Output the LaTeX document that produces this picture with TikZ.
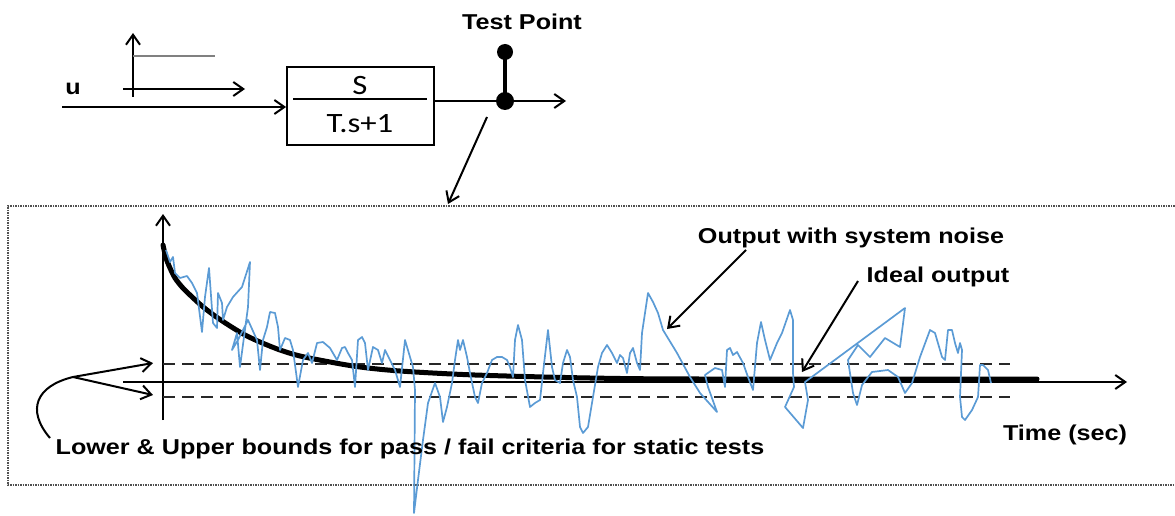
\documentclass[tikz,border=0pt]{standalone}
\usepackage{fontspec}
\usepackage{graphicx}
\setmainfont{Liberation Sans}
\newfontfamily\calibfont{Carlito}
\usetikzlibrary{arrows.meta}
\definecolor{noiseblue}{RGB}{91,155,213}
\definecolor{bounddash}{RGB}{40,40,40}
\definecolor{framegray}{RGB}{80,80,80}
\newcommand{\wtext}[1]{\scalebox{1.17}[1]{#1}}

\begin{document}
\begin{tikzpicture}[x=1pt,y=-1pt,
  lbl/.style={font=\fontsize{21.5}{25}\selectfont\bfseries, inner sep=0pt},
  tfont/.style={font=\calibfont\fontsize{28}{32}\selectfont, inner sep=0pt},
  barb/.style={-{Straight Barb[length=10pt,width=14pt,line width=2pt]}},
  axis/.style={barb, line width=2.3pt},
  wire/.style={line width=1.8pt},
  pointer/.style={barb, line width=2pt},
  bound/.style={bounddash, line width=2.7pt, dash pattern=on 12pt off 7pt},
]
\useasboundingbox (0,0) rectangle (1175,516);

% ---------- step input sketch ----------
\coordinate (sbot) at (133,97);
\coordinate (stop) at (133,33);
\coordinate (sl) at (123,89);
\coordinate (sr) at (245,89);
\coordinate (lvl0) at (133,56);
\coordinate (lvl1) at (215,56);
\draw[axis] (sbot) -- (stop);
\draw[axis] (sl) -- (sr);
\draw[gray, line width=2pt] (lvl0) -- (lvl1);
\node[lbl] (u) at (73,89) {\wtext{u}};

% ---------- transfer function block ----------
\node[draw, line width=1.8pt, minimum width=147pt, minimum height=78pt, inner sep=0pt] (tf) at (360.5,106) {};
\coordinate (fl) at (293,99);
\coordinate (fr) at (427,99);
\draw[wire] (fl) -- (fr);
\node[tfont] (num) at (360,86) {\wtext{S}};
\node[tfont] (den) at (360,124) {\wtext{T.s+1}};

\coordinate (in) at (62,107);
\draw[wire, barb] (in) -- (in -| tf.west);

\coordinate (tp) at (505,101);
\coordinate (tptop) at (505,52);
\coordinate (out) at (566,101);
\draw[wire, barb] (tp -| tf.east) -- (out);
\draw[line width=4.5pt] (tp) -- (tptop);
\fill (tp) circle (9);
\fill (tptop) circle (8);
\node[lbl] (tplabel) at (522,22) {\wtext{Test Point}};

% ---------- pointer into the plot ----------
\coordinate (ptr0) at (487,117);
\coordinate (ptr1) at (448,204);
\draw[pointer] (ptr0) -- (ptr1);

% ---------- plot frame ----------
\coordinate (fa) at (1177,206);
\coordinate (fb) at (8,206);
\coordinate (fc) at (8,485);
\coordinate (fd) at (1177,485);
\draw[framegray, line width=1.5pt, densely dotted] (fa) -- (fb) -- (fc) -- (fd);

% ---------- axes ----------
\coordinate (ybot) at (163,420);
\coordinate (ytop) at (163,214);
\coordinate (xl) at (123,382);
\coordinate (xr) at (1127,382);
\draw[axis] (ybot) -- (ytop);
\draw[axis] (xl) -- (xr);

% ---------- pass / fail bounds ----------
\coordinate (ub0) at (163,364);
\coordinate (ub1) at (1010,364);
\coordinate (lb0) at (163,397);
\coordinate (lb1) at (1010,397);
\draw[bound] (ub0) -- (ub1);
\draw[bound] (lb0) -- (lb1);

% ---------- ideal output ----------
\draw[line width=5pt, line cap=round] plot[smooth] coordinates {
 (163,245) (166,258) (170,268) (175,278) (182,287) (190,295) (202,306)
 (215,316) (230,326) (245,335) (260,342) (280,350) (300,356) (330,362)
 (360,367) (400,371) (475,375) (590,378) (700,379) (1037,379)};

% ---------- output with system noise ----------
\draw[noiseblue, line width=1.7pt, line join=round] plot coordinates {
 (166,250) (170,262) (173,257) (175,273) (180,278) (187,276) (192,283) (197,293)
 (202,332) (205,297) (209,268) (213,323) (217,328) (218,293) (222,303) (223,320)
 (227,307) (233,297) (242,287) (250,262) (248,307) (240,367) (237,333) (232,350)
 (238,340) (243,330) (248,320) (257,340) (260,370) (263,340) (267,327) (270,312)
 (275,313) (278,327) (280,350) (285,338) (290,340) (293,350) (298,387) (303,360)
 (308,353) (312,363) (317,343) (323,342) (330,348) (337,360) (342,348) (345,347)
 (348,353) (352,360) (355,387) (358,340) (362,337) (365,343) (368,370) (373,347)
 (378,350) (382,363) (385,350) (390,360) (395,370) (400,387) (405,340) (410,357)
 (413,367) (415,390) (414,513) (418,480) (423,440) (428,403) (435,383) (440,397)
 (443,422) (447,407) (452,383) (455,360) (458,340) (460,350) (463,340) (467,357)
 (470,373) (475,397) (478,403) (482,383) (487,373) (492,360) (497,357) (502,357)
 (507,360) (510,367) (513,377) (515,340) (518,325) (522,340) (525,380) (530,407)
 (535,403) (540,400) (543,373) (548,330) (552,367) (555,380) (560,383) (563,363)
 (567,350) (570,357) (573,380) (577,397) (580,427) (583,433) (588,427) (593,397)
 (598,367) (602,353) (607,345) (612,353) (617,363) (620,355) (623,358) (627,373)
 (630,353) (633,348) (637,363) (640,370) (642,333) (648,293) (653,302) (658,313)
 (663,330) (677,353) (690,377) (700,393) (717,412) (708,387) (705,375) (715,368)
 (722,370) (725,387) (727,350) (730,348) (733,355) (737,352) (743,363) (748,377)
 (753,390) (757,343) (761,322) (765,340) (770,360) (777,343) (782,333) (790,310)
 (793,320) (793,373) (794,387) (785,407) (803,428) (808,400) (805,382) (905,308)
 (900,347) (885,338) (870,357) (858,345) (848,360) (853,393) (857,405) (862,385)
 (872,372) (888,370) (898,377) (905,393) (912,383) (920,357) (930,330) (935,333)
 (942,357) (945,360) (948,330) (952,330) (955,343) (958,353) (960,343) (962,350)
 (960,397) (962,417) (965,420) (972,410) (978,397) (980,365) (983,365) (988,370)
 (991,383)};

% ---------- labels and their pointers ----------
\node[lbl] (noiselbl) at (851,238) {\wtext{Output with system noise}};
\node[lbl] (ideallbl) at (938,277) {\wtext{Ideal output}};
\node[lbl] (timelbl) at (1065,435) {\wtext{Time (sec)}};
\node[lbl] (boundlbl) at (410,449) {\wtext{Lower \& Upper bounds for pass / fail criteria for static tests}};

\coordinate (n0) at (746,250);
\coordinate (n1) at (667,329);
\draw[pointer] (n0) -- (n1);
\coordinate (i0) at (858,281);
\coordinate (i1) at (802,372);
\draw[pointer] (i0) -- (i1);

% bounds pointer: curved stem splitting into two arrows
\coordinate (bs) at (50,438);
\coordinate (bj) at (73,377);
\coordinate (bu) at (153,363);
\coordinate (bl) at (153,395);
\draw[pointer] (bs) .. controls (26,410) and (36,386) .. (bj) -- (bu);
\draw[pointer] (bj) -- (bl);
\end{tikzpicture}
\end{document}
